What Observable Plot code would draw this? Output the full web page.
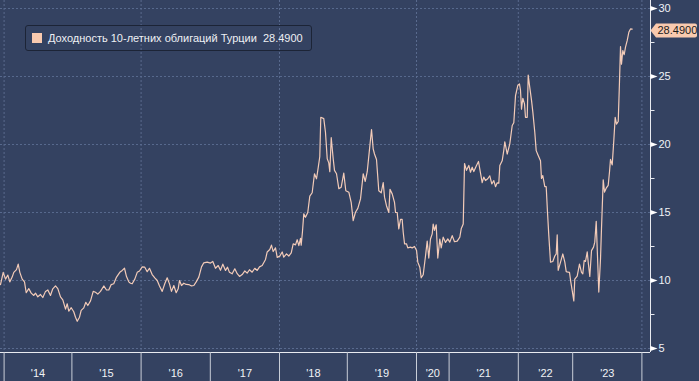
<!DOCTYPE html>
<html><head><meta charset="utf-8">
<script src="https://cdn.jsdelivr.net/npm/d3@7"></script>
<script src="https://cdn.jsdelivr.net/npm/@observablehq/plot@0.6"></script>
<style>
html,body{margin:0;padding:0;background:#344261;}
#wrap{position:relative;width:699px;height:381px;overflow:hidden;}
#wrap svg{display:block;}
#legend{position:absolute;left:25px;top:25px;width:285px;height:24px;border:1px solid #1c2436;border-radius:3px;
  font:11px "Liberation Sans",sans-serif;color:#eef0f4;display:flex;align-items:center;white-space:pre;}
#legend .sw{width:10px;height:10px;background:#f9caaf;margin-left:6px;margin-right:6px;flex:none;}
</style></head>
<body><div id="wrap"></div>
<script>
// Turkey 10Y government bond yield, decimal-year dates
const dates = [2013.947,2013.987,2014.021,2014.055,2014.084,2014.119,2014.143,2014.183,2014.208,2014.232,2014.267,2014.301,2014.326,2014.364,2014.400,2014.438,2014.463,2014.497,2014.537,2014.571,2014.611,2014.645,2014.684,2014.718,2014.758,2014.792,2014.832,2014.866,2014.906,2014.931,2014.954,2014.990,
2015.027,2015.052,2015.077,2015.110,2015.134,2015.172,2015.201,2015.230,2015.269,2015.308,2015.341,2015.374,2015.413,2015.461,2015.500,2015.533,2015.568,2015.605,2015.645,2015.692,2015.727,2015.760,2015.789,2015.822,2015.847,2015.871,2015.909,2015.944,2015.977,
2016.016,2016.053,2016.088,2016.121,2016.160,2016.198,2016.233,2016.266,2016.305,2016.342,2016.377,2016.410,2016.439,2016.473,2016.507,2016.536,2016.555,2016.584,2016.617,2016.652,2016.689,2016.728,2016.762,2016.796,2016.834,2016.873,2016.906,2016.955,
2017.003,2017.036,2017.075,2017.114,2017.147,2017.181,2017.220,2017.249,2017.277,2017.316,2017.354,2017.389,2017.422,2017.461,2017.499,2017.533,2017.566,2017.605,2017.643,2017.678,2017.711,2017.750,2017.798,2017.822,2017.860,2017.884,2017.909,2017.942,2017.967,
2018.004,2018.040,2018.063,2018.103,2018.137,2018.173,2018.202,2018.236,2018.261,2018.285,2018.310,2018.320,2018.339,2018.358,2018.383,2018.417,2018.447,2018.482,2018.516,2018.546,2018.565,2018.594,2018.609,2018.653,2018.678,2018.704,2018.727,2018.742,2018.763,2018.792,2018.811,2018.841,2018.875,2018.910,2018.948,2018.978,
2019.022,2019.056,2019.085,2019.118,2019.152,2019.191,2019.230,2019.259,2019.288,2019.316,2019.350,2019.374,2019.393,2019.422,2019.455,2019.490,2019.519,2019.538,2019.566,2019.600,2019.617,2019.649,2019.682,2019.697,2019.721,2019.744,2019.769,2019.793,2019.808,2019.827,2019.855,2019.874,2019.913,2019.938,2019.971,
2020.002,2020.040,2020.101,2020.144,2020.206,2020.276,2020.328,2020.377,2020.429,2020.482,2020.512,2020.552,2020.604,2020.653,2020.715,2020.758,2020.819,2020.890,2020.960,
2021.010,2021.045,2021.078,2021.117,2021.155,2021.175,2021.204,2021.223,2021.251,2021.285,2021.309,2021.334,2021.357,2021.396,2021.425,2021.454,2021.478,2021.501,2021.526,2021.559,2021.588,2021.617,2021.646,2021.671,2021.695,2021.718,2021.733,2021.767,2021.790,2021.805,2021.840,2021.877,2021.912,2021.935,2021.960,2021.993,
2022.022,2022.040,2022.059,2022.083,2022.114,2022.132,2022.164,2022.182,2022.206,2022.243,2022.267,2022.303,2022.329,2022.366,2022.408,2022.426,2022.450,2022.487,2022.513,2022.537,2022.561,2022.592,2022.634,2022.671,2022.697,2022.715,2022.733,2022.776,2022.818,2022.855,2022.881,2022.917,2022.941,2022.965,2022.991,
2023.016,2023.030,2023.065,2023.098,2023.127,2023.146,2023.166,2023.185,2023.210,2023.224,2023.247,2023.272,2023.301,2023.319,2023.340,2023.358,2023.377,2023.402,2023.416,2023.441,2023.460,2023.484,2023.513,2023.532,2023.546,2023.571,2023.594,2023.614,2023.633,2023.658,2023.676,2023.691,2023.705,2023.724,2023.744,2023.763,2023.788,2023.811,2023.835,2023.860];

const yields = [9.7,10.6,10.1,10.4,9.9,10.25,10.6,10.8,11.2,10.6,10.1,9.9,9.1,9.4,9.07,8.9,9.07,8.8,8.97,8.75,9.2,9.31,8.9,9.39,9.6,9.4,8.8,8.58,7.9,8.29,7.74,8.0,
7.7,7.3,7.0,7.3,7.8,7.99,8.4,8.16,8.5,9.2,9.14,9.0,9.2,9.6,9.3,9.3,9.7,9.76,10.25,10.6,10.74,10.9,10.29,9.9,9.8,9.76,10.1,10.6,10.7,
11.0,10.98,10.65,10.9,10.44,10.2,10.0,9.6,9.2,9.76,10.2,9.75,9.2,9.63,9.1,9.39,10.0,9.63,9.8,9.71,9.7,9.6,9.63,9.9,10.25,11.0,11.3,11.35,
11.28,11.4,10.9,11.1,10.75,11.2,10.74,10.98,10.6,10.49,10.86,10.5,10.3,10.44,10.7,10.54,10.79,10.61,10.9,10.74,11.0,11.1,11.55,12.1,12.28,12.6,12.13,12.4,11.7,
11.79,12.1,11.71,11.96,11.8,12.03,12.7,12.62,13.0,12.57,13.1,12.6,13.6,14.9,14.65,15.0,16.2,16.45,17.85,17.48,18.1,19.1,22.0,21.9,20.9,18.95,18.65,18.0,20.5,18.95,18.1,17.85,16.75,16.86,17.9,16.6,
16.49,15.75,14.4,15.02,15.3,16.0,17.85,17.28,18.0,19.4,21.1,19.68,19.3,18.9,16.6,16.45,17.2,16.13,15.5,15.0,16.7,16.37,15.75,15.0,15.0,13.8,14.5,14.49,13.55,12.7,12.7,12.4,12.45,12.4,12.5,
12.2,11.35,10.98,10.2,10.42,11.8,12.9,11.65,13.05,13.43,14.15,13.68,14.1,11.65,13.05,12.4,13.19,12.8,13.06,
12.82,13.3,12.85,12.9,13.19,13.8,14.15,18.6,18.1,18.46,17.96,18.33,18.01,18.45,18.75,17.9,17.2,17.6,17.35,17.48,17.7,17.1,17.35,16.9,17.18,17.15,18.45,18.8,19.56,20.2,19.3,20.05,21.4,21.6,23.6,24.35,
24.45,24.0,22.6,23.4,22.99,22.0,22.0,25.1,24.35,23.24,22.4,20.9,19.55,19.19,18.8,17.5,17.72,16.9,16.9,15.0,13.3,11.35,11.4,11.8,11.96,13.35,10.75,11.35,11.95,11.35,10.65,10.61,10.6,9.9,9.26,
8.5,10.1,10.32,11.2,10.6,10.49,11.47,11.4,12.1,11.35,10.3,12.2,12.45,12.82,14.35,11.84,9.15,11.6,13.8,17.4,16.5,16.79,17.0,18.0,18.9,18.5,20.3,22.0,21.5,21.69,24.6,27.2,25.9,26.91,26.6,27.16,27.65,28.25,28.5,28.49];

const seriesName = "Доходность 10-летних облигаций Турции";
const yearStarts = [2014,2015,2016,2017,2018,2019,2020,2021,2022,2023,2024];
const gridYears = [2014,2016,2018,2020,2022,2024];
const yMajor = [5,10,15,20,25,30];
const yMinor = [7.5,12.5,17.5,22.5,27.5];

// Gapless (Bloomberg-style) time axis: piecewise scale, one piece per year
const xDomain = [2013.947, ...yearStarts, 2024.123];
const xRange = [0, 3.6, 71.4, 140.6, 209.8, 279, 346.8, 416, 448.6, 517.8, 572.2, 641.4, 650];
const yDomain = [4.706, 30.588];

const bg = "#344261";
const lineColor = "#f3cbb8";
const gridColor = "#596a8e";

const data = dates.map((d, i) => ({date: d, value: yields[i]}));
const last = data[data.length - 1];
const yearMids = yearStarts.slice(0, -1).map(y => y + 0.5);

const rightTri = {draw(ctx) { ctx.moveTo(0, -2.4); ctx.lineTo(7, 0); ctx.lineTo(0, 2.4); ctx.closePath(); }};

const plot = Plot.plot({
  width: 699, height: 381,
  marginLeft: 0, marginRight: 49, marginTop: 0, marginBottom: 29,
  style: {background: bg, color: "white", fontFamily: "Liberation Sans, sans-serif", fontSize: "11px", overflow: "visible"},
  x: {type: "linear", domain: xDomain, range: xRange, label: null},
  y: {domain: yDomain, label: null},
  marks: [
    Plot.ruleY(yMajor, {stroke: gridColor, strokeDasharray: "2,2"}),
    Plot.ruleX(gridYears, {stroke: gridColor, strokeDasharray: "2,2"}),
    Plot.line(data, {x: "date", y: "value", stroke: lineColor, strokeWidth: 1.2}),
    Plot.ruleY([yDomain[0]], {stroke: "#e8eaf0"}),
    Plot.ruleX([xDomain[xDomain.length - 1]], {stroke: "#e8eaf0"}),
    Plot.axisX({ticks: yearStarts, tickSize: 29, tickFormat: () => "", stroke: "#c9ced8", label: null}),
    Plot.axisX({ticks: yearMids, tickSize: 0, tickPadding: 17, tickFormat: d => "'" + String(Math.floor(d)).slice(2), fill: "#f0f2f6", label: null}),
    Plot.axisY({anchor: "right", ticks: yMajor, tickSize: 0, tickPadding: 8, fill: "#f0f2f6", label: null}),
    Plot.axisY({anchor: "right", ticks: yMinor, tickSize: 3.5, tickFormat: () => "", stroke: "#e8eaf0", label: null}),
    Plot.dot(yMajor, {y: d => d, frameAnchor: "right", symbol: rightTri, fill: "white", stroke: null})
  ]
});

const wrap = document.getElementById("wrap");
wrap.appendChild(plot);

// value tag at the last observation, positioned with the plot's y scale
const yPx = plot.scale("y").apply(last.value) + 2;
const svg = d3.select(plot);
svg.append("path")
  .attr("d", `M650.5,${yPx} L656,${yPx - 7} H695 Q697,${yPx - 7} 697,${yPx - 5} V${yPx + 5} Q697,${yPx + 7} 695,${yPx + 7} H656 Z`)
  .attr("fill", "#f9caaf");
svg.append("text")
  .attr("x", 657.5).attr("y", yPx)
  .attr("dy", "0.35em")
  .attr("text-anchor", "start")
  .attr("fill", "#1a1a1a")
  .attr("font-family", "Liberation Sans, sans-serif")
  .attr("font-size", 11)
  .text(last.value.toFixed(4));

// legend overlay
const legend = document.createElement("div");
legend.id = "legend";
legend.innerHTML = '<span class="sw"></span><span></span>';
legend.lastChild.textContent = seriesName + "  " + last.value.toFixed(4);
wrap.appendChild(legend);
</script>
</body></html>
